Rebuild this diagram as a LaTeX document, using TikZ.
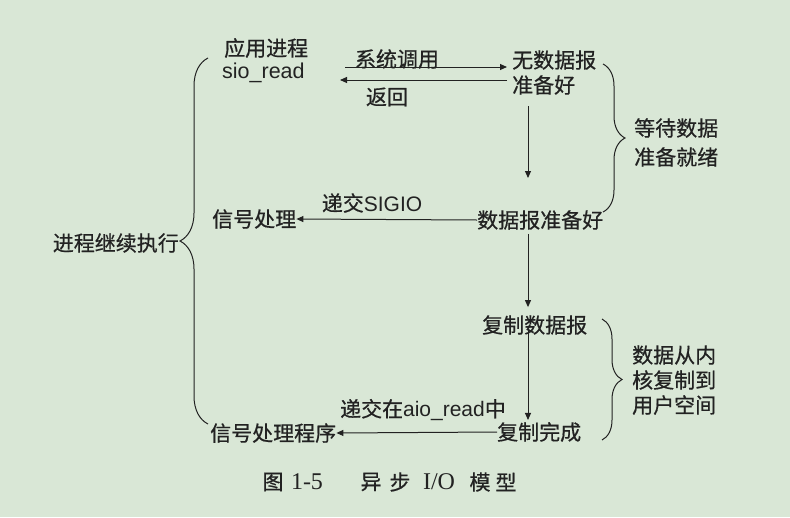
\documentclass[tikz,border=0pt]{standalone}
\usepackage{fontspec}
\setmainfont{Liberation Sans}
\newfontfamily\cjk{Noto Sans CJK SC}[FakeBold=0.6]
\newfontfamily\capserif{Liberation Serif}
\usetikzlibrary{arrows.meta,decorations.pathreplacing}
\definecolor{bg}{HTML}{D9E7D6}
\definecolor{ink}{HTML}{222222}
\begin{document}
\begin{tikzpicture}[x=1pt,y=-1pt,
  txt/.style={inner sep=0pt,text=ink,font=\fontsize{21}{25}\selectfont\cjk},
  lat/.style={inner sep=0pt,text=ink,font=\fontsize{21.5}{25}\selectfont},
  arr/.style={draw=ink,line width=1pt,-{Triangle[length=7pt,width=6pt]}},
  brc/.style={draw=ink,line width=1pt,decorate,decoration={brace,amplitude=#1}},
  capt/.style={inner sep=0pt,text=ink,font=\fontsize{21}{24}\selectfont\cjk},
  capl/.style={inner sep=0pt,text=ink,font=\fontsize{24}{26}\selectfont\capserif}]
\fill[bg] (0,0) rectangle (790,517);
\useasboundingbox (0,0) rectangle (790,517);

% top row
\node[txt,anchor=west] (app1) at (224,48) {应用进程};
\node[lat,anchor=west] (app2) at (222,73) {sio\_read};
\node[txt,anchor=west] (nd1) at (512,60) {无数据报};
\node[txt,anchor=west] (nd2) at (512,85) {准备好};
\node[txt] (lsys) at (397,59) {系统调用};
\node[txt] (lret) at (387,97) {返回};
\coordinate (s1) at (345,67);
\coordinate (e1) at (507,67);
\coordinate (s2) at (507,80);
\coordinate (e2) at (340,80);
\draw[arr] (s1) -- (e1);
\draw[arr] (s2) -- (e2);

% wait brace
\node[txt,anchor=west] (w1) at (634,128) {等待数据};
\node[txt,anchor=west] (w2) at (634,157) {准备就绪};
\coordinate (b1t) at (603,64);
\coordinate (b1b) at (603,212);
\draw[brc=22] (b1t) -- (b1b);

% column
\coordinate (col) at (528,0);
\node[txt,anchor=west] (ready) at (477,220) {数据报准备好};
\node[txt,anchor=west] (sig) at (212,219) {信号处理};
\node[font=\fontsize{21}{25}\selectfont,inner sep=0pt,text=ink] (lsig) at (372,203) {{\cjk 递交}SIGIO};
\coordinate (d1s) at (528,106);
\coordinate (d1e) at (528,178);
\draw[arr] (d1s) -- (d1e);
\draw[arr] (ready.west) -- (sig.east);

\node[txt,anchor=west] (copy) at (482,325) {复制数据报};
\draw[arr] ([yshift=-4pt]ready.south -| col) -- ([yshift=8pt]copy.north -| col);

\node[txt,anchor=west] (done) at (497,432) {复制完成};
\node[txt,anchor=west] (sigh) at (210,433) {信号处理程序};
\node[font=\fontsize{21}{25}\selectfont,inner sep=0pt,text=ink] (laio) at (423,410) {{\cjk 递交在}aio\_read{\cjk 中}};
\draw[arr] ([yshift=6pt]copy.south -| col) -- ([yshift=2pt]done.north -| col);
\draw[arr] (done.west) -- (sigh.east);

% copy brace
\node[txt,anchor=west] (k1) at (632,355) {数据从内};
\node[txt,anchor=west] (k2) at (632,380) {核复制到};
\node[txt,anchor=west] (k3) at (632,405) {用户空间};
\coordinate (b2t) at (602,319);
\coordinate (b2b) at (602,440);
\draw[brc=20] (b2t) -- (b2b);

% left brace
\node[txt,anchor=east] (cont) at (179,243) {进程继续执行};
\coordinate (b3b) at (208,424);
\coordinate (b3t) at (208,58);
\draw[brc=28] (b3b) -- (b3t);

% caption
\node[capt] (c1) at (273,482) {图};
\node[capl] (c2) at (307,482) {1-5};
\node[capt] (c3) at (371,482) {异};
\node[capt] (c4) at (400,482) {步};
\node[capl] (c5) at (439,482) {I/O};
\node[capt] (c6) at (480,482) {模};
\node[capt] (c7) at (506,482) {型};
\end{tikzpicture}
\end{document}
